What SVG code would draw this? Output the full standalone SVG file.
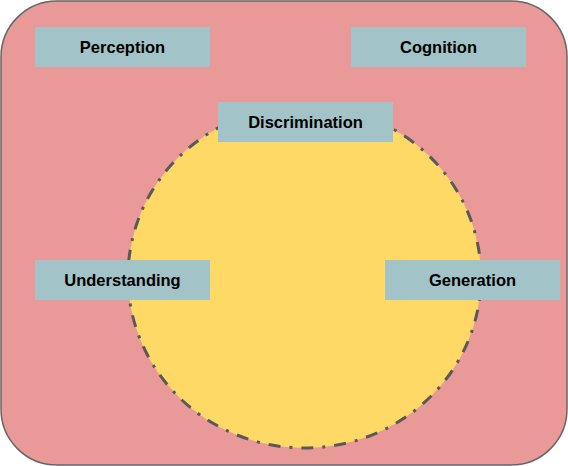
<svg xmlns="http://www.w3.org/2000/svg" width="568" height="466" viewBox="0 0 568 466">
<style>
.box{fill:#A2C4C9;}
.lbl{font-family:"Liberation Sans",Arial,sans-serif;font-weight:bold;font-size:16.5px;fill:#000;text-anchor:middle;}
</style>
<g id="frame"><rect x="1" y="1" width="566" height="464" rx="56" ry="56" fill="#EA9999" stroke="#666666" stroke-width="1.5"/></g>
<g id="circle"><ellipse cx="304.5" cy="277" rx="176.5" ry="171" fill="#FFD966" stroke="#595959" stroke-width="3" stroke-dasharray="12,9,3,9"/></g>
<g id="connectors"></g>
<g id="perception"><rect class="box" x="35" y="27" width="175" height="40"/><text class="lbl" x="122.5" y="53">Perception</text></g>
<g id="cognition"><rect class="box" x="351" y="27" width="175" height="40"/><text class="lbl" x="438.5" y="53">Cognition</text></g>
<g id="discrimination"><rect class="box" x="218" y="102" width="175" height="40"/><text class="lbl" x="305.5" y="128">Discrimination</text></g>
<g id="understanding"><rect class="box" x="35" y="260" width="175" height="40"/><text class="lbl" x="122.5" y="286">Understanding</text></g>
<g id="generation"><rect class="box" x="385" y="260" width="175" height="40"/><text class="lbl" x="472.5" y="286">Generation</text></g>
</svg>
